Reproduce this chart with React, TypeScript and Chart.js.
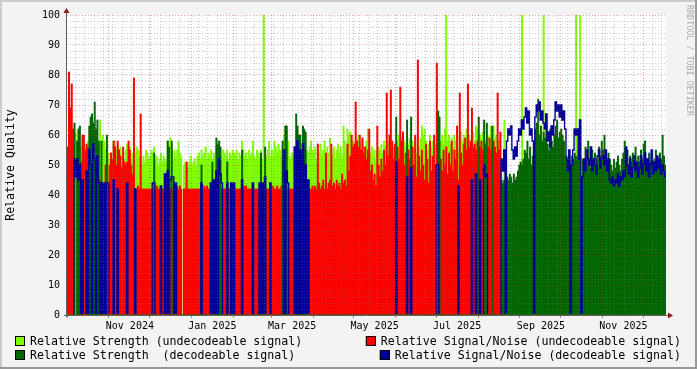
import React, { useEffect, useRef } from 'react';
import { Chart, registerables } from 'chart.js';

Chart.register(...registerables);

// ---- data (one value per day, starting 2024-10-01) ----
const START_DATE = '2024-10-01';

// Relative Strength (undecodeable signal)
const strengthUndecoded = [
  // Oct 2024
  50,52,52,50,55,0,61,0,0,0, 56,58,55,52,56,58,0,0,0,0, 0,0,0,0,65,56,60,58,55,56, 54,
  // Nov 2024
  52,54,50,58,58,55,56,52,56,50, 54,52,55,57,53,56,52,54,50,54, 56,55,53,52,50,53,51,55,54,52,
  // Dec 2024
  53,55,54,56,52,53,50,52,54,51, 53,52,51,58,56,59,54,52,55,53, 55,58,54,53,0,50,51,50,49,51, 53,
  // Jan 2025
  50,51,52,50,53,54,52,55,53,54, 56,52,54,53,55,52,54,53,56,54, 55,53,52,55,54,53,55,52,54,53, 55,
  // Feb 2025
  54,53,55,52,54,53,58,55,53,54, 52,55,53,54,58,53,52,55,54,53, 55,52,100,54,53,55,58,53,
  // Mar 2025
  55,53,58,56,54,57,55,53,56,60, 63,62,58,53,52,54,53,55,54,53, 55,54,52,55,54,53,55,54,56,58, 55,
  // Apr 2025
  54,56,52,55,54,57,53,55,58,53, 56,54,59,55,53,56,52,55,57,54, 56,53,63,58,55,62,60,61,55,58,
  // May 2025
  56,58,55,60,57,54,58,56,55,58, 62,55,54,56,53,55,52,54,56,55, 57,54,58,56,55,57,58,55,53,56, 55,
  // Jun 2025
  0,58,60,57,59,55,58,56,0,57, 59,0,58,55,57,54,58,56,59,63, 60,62,58,55,57,60,56,58,55,57,
  // Jul 2025
  55,0,0,58,60,57,62,100,58,60, 57,59,56,60,58,57,55,59,61,58, 60,56,62,58,60,57,59,61,58,63, 62,
  // Aug 2025
  58,60,59,61,0,58,0,60,58,63, 62,63,59,60,57,58,56,0,0,65, 0,0,0,0,0,0,0,0,0,0, 0,
  // Sep 2025
  0,100,0,0,0,0,0,0,0,0, 0,0,0,0,0,0,0,100,0,0, 0,0,0,0,0,0,0,0,0,0,
  // Oct 2025
  0,0,0,0,0,0,0,0,0,0, 0,100,0,0,100,0,0,0,0,0, 0,0,0,0,0,0,0,0,0,0, 0,
  // Nov 2025
  0,0,0,0,0,0,0,0,0,0, 0,0,0,0,0,0,0,0,0,0, 0,0,0,0,0,0,0,0,0,0,
  // Dec 2025
  0,0,0,0,0,0,0,0,0,0, 0,0,0,0,0,0,0,
];

// Relative Signal/Noise (undecodeable signal)
const snUndecoded = [
  // Oct 2024
  56,81,69,77,62,0,0,0,0,0, 51,60,60,55,57,56,0,0,0,0, 0,0,0,0,45,42,44,42,50,44, 43,
  // Nov 2024
  50,54,52,58,56,50,58,55,53,49, 56,51,50,51,58,55,50,47,79,42, 42,43,42,67,42,42,42,42,42,42,
  // Dec 2024
  42,42,42,42,42,43,42,42,42,42, 42,42,42,42,42,42,42,42,42,42, 43,42,43,42,0,42,42,51,42,42, 42,
  // Jan 2025
  42,42,42,42,42,42,42,42,42,43, 42,43,42,42,42,42,42,42,42,42, 42,42,42,42,42,42,42,42,42,42, 42,
  // Feb 2025
  42,42,42,42,42,42,42,42,43,43, 42,42,42,42,42,42,42,42,42,42, 42,42,42,42,42,42,42,42,
  // Mar 2025
  42,43,42,42,43,42,42,43,42,42, 42,42,42,42,42,42,42,42,42,42, 42,42,42,42,42,42,42,42,42,42, 43,
  // Apr 2025
  42,43,42,57,44,42,43,45,42,54, 42,44,45,57,43,44,42,45,43,44, 42,47,44,45,43,57,48,53,60,56,
  // May 2025
  57,71,58,56,60,55,59,54,56,52, 55,62,48,50,45,47,43,63,50,46, 52,48,55,50,74,53,60,75,58,52, 57,
  // Jun 2025
  0,56,52,76,58,61,50,54,0,55, 52,0,56,50,60,46,85,53,48,55, 50,45,57,52,44,58,48,53,60,50,
  // Jul 2025
  84,0,0,52,48,55,50,56,47,54, 50,58,48,55,52,63,45,74,54,50, 57,59,55,77,56,58,69,56,57,55, 58,
  // Aug 2025
  56,56,58,55,0,57,0,56,59,55, 57,58,56,54,74,55,61,0,0,0, 0,0,0,0,0,0,0,0,0,0, 0,
  // Sep 2025
  0,0,0,0,0,0,0,0,0,0, 0,0,0,0,0,0,0,0,0,0, 0,0,0,0,0,0,0,0,0,0,
  // Oct 2025
  0,0,0,0,0,0,0,0,0,0, 0,0,0,0,0,0,0,0,0,0, 0,0,0,0,0,0,0,0,0,0, 0,
  // Nov 2025
  0,0,0,0,0,0,0,0,0,0, 0,0,0,0,0,0,0,0,0,0, 0,0,0,0,0,0,0,0,0,0,
  // Dec 2025
  0,0,0,0,0,0,0,0,0,0, 0,0,0,0,0,0,0,
];

// Relative Strength (decodeable signal)
const strengthDecoded = [
  // Oct 2024
  0,0,0,0,0,64,0,58,62,63, 0,0,0,0,0,0,63,66,67,64, 71,62,65,58,0,58,0,0,0,60, 0,
  // Nov 2024
  0,0,0,0,0,0,0,0,0,0, 0,0,0,0,0,0,0,0,0,0, 0,0,0,0,0,0,0,0,0,0,
  // Dec 2024
  0,0,0,54,0,0,0,0,0,0, 0,0,0,58,56,0,58,0,0,0, 0,0,0,0,0,0,0,0,0,0, 0,
  // Jan 2025
  0,0,0,0,0,0,0,50,0,0, 0,0,0,0,0,51,0,0,59,57, 58,56,0,0,0,0,51,0,0,0, 0,
  // Feb 2025
  0,0,0,0,0,0,55,0,0,0, 0,0,0,0,0,0,0,0,0,0, 54,0,0,56,0,0,0,0,
  // Mar 2025
  0,0,0,0,0,0,0,0,58,0, 63,63,0,0,0,0,0,0,67,63, 60,60,0,63,62,61,0,0,0,0, 0,
  // Apr 2025
  0,0,0,0,0,0,0,0,0,0, 0,0,0,0,0,0,0,0,0,0, 0,0,0,0,0,0,0,0,0,0,
  // May 2025
  0,0,0,0,0,0,0,0,0,0, 0,0,0,0,0,0,0,0,0,0, 0,0,0,0,0,0,0,0,0,0, 0,
  // Jun 2025
  66,0,0,0,0,0,0,0,65,0, 0,66,0,0,0,0,0,0,0,0, 0,0,0,0,0,0,0,0,0,0,
  // Jul 2025
  0,68,66,0,0,0,0,0,0,0, 0,0,0,0,0,0,0,0,0,0, 0,0,0,0,0,0,0,0,0,0, 0,
  // Aug 2025
  66,0,0,0,65,0,64,0,0,0, 63,0,0,0,0,0,0,45,44,45, 0,46,45,47,46,44,47,45,46,48, 50,
  // Sep 2025
  51,50,52,55,54,58,52,56,50,53, 0,62,64,72,60,63,58,61,59,64, 57,55,62,58,56,60,63,65,59,61,
  // Oct 2025
  62,60,58,52,53,51,52,0,53,52, 54,53,52,55,53,0,52,50,56,53, 58,52,49,55,51,54,52,50,56,53, 58,
  // Nov 2025
  55,60,53,50,54,52,50,48,52,49, 51,53,50,48,52,54,58,52,55,50, 53,51,54,52,56,50,53,51,55,52,
  // Dec 2025
  57,58,52,50,54,51,53,50,52,55, 53,51,54,52,60,53,50,
];

// Relative Signal/Noise (decodeable signal)
const snDecoded = [
  // Oct 2024
  0,0,0,0,0,52,46,52,45,50, 0,45,0,0,48,0,55,50,0,57, 52,0,53,44,0,44,0,44,0,44, 44,
  // Nov 2024
  0,0,0,45,0,0,42,0,0,0, 0,0,0,44,0,0,0,0,0,42, 0,0,0,0,0,0,0,0,0,0,
  // Dec 2024
  0,0,44,44,0,0,0,0,43,0, 0,47,0,48,0,45,46,46,0,44, 0,0,0,0,0,0,0,0,0,0, 0,
  // Jan 2025
  0,0,0,0,0,0,0,44,0,0, 0,0,0,0,44,0,45,0,48,0, 52,47,44,0,0,0,44,0,0,44, 0,
  // Feb 2025
  44,0,0,0,0,0,45,0,0,0, 0,0,0,0,44,0,0,0,0,44, 0,44,0,46,0,0,0,44,
  // Mar 2025
  0,0,0,0,0,0,0,0,0,55, 0,48,44,0,0,0,0,56,0,58, 0,55,0,57,0,50,0,45,0,0, 0,
  // Apr 2025
  0,0,0,0,0,0,0,0,0,0, 0,0,0,0,0,0,0,0,0,0, 0,0,0,0,0,0,0,0,0,0,
  // May 2025
  0,0,0,0,0,0,0,0,0,0, 0,0,0,0,0,0,0,0,0,0, 0,0,0,0,0,0,0,0,0,0, 0,
  // Jun 2025
  51,0,0,0,0,0,0,0,46,0, 0,49,0,0,0,0,0,0,0,0, 0,0,0,0,0,0,0,0,0,0,
  // Jul 2025
  50,50,0,0,0,0,0,0,0,0, 0,0,0,0,0,0,43,0,0,0, 0,0,0,0,0,0,45,0,0,47, 0,
  // Aug 2025
  0,45,0,0,50,46,47,0,0,0, 0,0,0,0,0,0,0,52,48,55, 0,58,62,60,63,55,52,56,53,58, 62,
  // Sep 2025
  60,65,62,66,69,64,68,60,62,58, 0,66,70,68,71,65,68,64,62,67, 58,61,56,63,60,65,71,68,70,66,
  // Oct 2025
  70,65,68,62,52,48,55,0,50,55, 62,60,62,52,65,0,46,52,48,55, 52,50,56,48,52,50,47,53,55,49, 52,
  // Nov 2025
  53,50,55,48,52,45,44,46,43,45, 44,47,43,46,45,48,46,56,50,47, 52,46,49,53,48,51,46,49,53,47,
  // Dec 2025
  50,54,48,52,46,50,55,47,51,48, 53,49,52,47,50,48,46,
];

// x axis labels (centered mid-month) and their dates
const xLabelDates = ['2024-11-16', '2025-01-16', '2025-03-16', '2025-05-16', '2025-07-16', '2025-09-16', '2025-11-16'];
const xLabelTexts = ['Nov 2024', 'Jan 2025', 'Mar 2025', 'May 2025', 'Jul 2025', 'Sep 2025', 'Nov 2025'];

const legendTexts = [
  'Relative Strength (undecodeable signal)',
  'Relative Signal/Noise (undecodeable signal)',
  'Relative Strength  (decodeable signal)',
  'Relative Signal/Noise (decodeable signal)',
];

// ---- styles ----
const MONO = '"DejaVu Sans Mono", monospace';
const C_LG = '#80FF00';
const C_RED = '#FF0000';
const C_DG = '#006600';
const C_BLUE = '#000099';
const GRID_MAJOR = 'rgba(200,40,40,0.38)';
const GRID_MINOR = 'rgba(120,120,120,0.36)';
const NONE = 'rgba(0,0,0,0)';

const categories: string[] = (() => {
  const start = Date.parse(START_DATE + 'T00:00:00Z');
  const out: string[] = [];
  for (let i = 0; i < strengthUndecoded.length; i++) {
    out.push(new Date(start + i * 86400000).toISOString().slice(0, 10));
  }
  return out;
})();

function dayOf(i: number) {
  return new Date(categories[i] + 'T00:00:00Z');
}

const rrdPlugin = {
  id: 'rrdDecor',
  beforeDraw(chart: any) {
    const { ctx, chartArea: a, width, height } = chart;
    ctx.save();
    ctx.fillStyle = '#F3F3F3';
    ctx.fillRect(0, 0, width, height);
    ctx.fillStyle = '#CBCBCB';
    ctx.fillRect(0, 0, width, 2);
    ctx.fillRect(0, 0, 2, height);
    ctx.fillStyle = '#999999';
    ctx.fillRect(0, height - 2, width, 2);
    ctx.fillRect(width - 2, 0, 2, height);
    ctx.fillStyle = '#FFFFFF';
    ctx.fillRect(a.left, a.top, a.right - a.left, a.bottom - a.top);
    ctx.restore();
  },
  afterDraw(chart: any) {
    const { ctx, chartArea: a } = chart;
    ctx.save();
    // axes
    ctx.strokeStyle = '#606060';
    ctx.lineWidth = 1;
    ctx.beginPath();
    ctx.moveTo(a.left - 0.5, a.bottom + 2);
    ctx.lineTo(a.left - 0.5, a.top - 3);
    ctx.moveTo(a.left - 3, a.bottom + 0.5);
    ctx.lineTo(a.right + 3, a.bottom + 0.5);
    ctx.stroke();
    // arrows
    ctx.fillStyle = '#8B1A1A';
    ctx.beginPath();
    ctx.moveTo(a.left - 0.5, a.top - 7);
    ctx.lineTo(a.left - 3.5, a.top - 2);
    ctx.lineTo(a.left + 2.5, a.top - 2);
    ctx.closePath();
    ctx.fill();
    ctx.beginPath();
    ctx.moveTo(a.right + 7, a.bottom + 0.5);
    ctx.lineTo(a.right + 2, a.bottom - 2.5);
    ctx.lineTo(a.right + 2, a.bottom + 3.5);
    ctx.closePath();
    ctx.fill();

    // legend
    const colors = [C_LG, C_RED, C_DG, C_BLUE];
    const rowsY = [341, 355];
    ctx.font = `11.6px ${MONO}`;
    ctx.textBaseline = 'middle';
    for (let k = 0; k < 4; k++) {
      const row = k < 2 ? 0 : 1;
      const right = k % 2 === 1;
      const y = rowsY[row];
      const text = legendTexts[k];
      const w = ctx.measureText(text).width;
      const tx = right ? 681 - w : 30;
      const bx = tx - 15;
      ctx.fillStyle = colors[k];
      ctx.fillRect(bx, y - 5, 10, 10);
      ctx.strokeStyle = '#000';
      ctx.lineWidth = 1;
      ctx.strokeRect(bx + 0.5, y - 4.5, 9, 9);
      ctx.fillStyle = '#000';
      ctx.textAlign = 'left';
      ctx.fillText(text, tx, y + 0.5);
    }

    // watermark
    ctx.translate(689, 5);
    ctx.rotate(Math.PI / 2);
    ctx.font = `8.4px ${MONO}`;
    ctx.fillStyle = '#ABABAB';
    ctx.textAlign = 'left';
    ctx.textBaseline = 'middle';
    ctx.fillText('RRDTOOL / TOBI OETIKER', 0, 0);
    ctx.restore();
  },
};

const barCommon = {
  grouped: false,
  barPercentage: 1,
  categoryPercentage: 1,
  borderWidth: 0,
};

export default function App() {
  const ref = useRef<HTMLCanvasElement>(null);

  useEffect(() => {
    const canvas = ref.current;
    if (!canvas) return;
    const chart = new Chart(canvas, {
      type: 'bar',
      data: {
        labels: categories,
        datasets: [
          {
            type: 'line',
            label: legendTexts[3],
            data: snDecoded,
            borderColor: C_BLUE,
            borderWidth: 1.4,
            stepped: 'middle',
            pointRadius: 0,
            fill: false,
            order: 1,
            clip: { left: 0, top: 5, right: 0, bottom: -1 },
          } as any,
          { label: legendTexts[2], data: strengthDecoded, backgroundColor: C_DG, order: 2, ...barCommon } as any,
          { label: legendTexts[1], data: snUndecoded, backgroundColor: C_RED, order: 3, ...barCommon } as any,
          { label: legendTexts[0], data: strengthUndecoded, backgroundColor: C_LG, order: 4, ...barCommon } as any,
        ],
      },
      options: {
        responsive: false,
        animation: false,
        devicePixelRatio: 1,
        events: [],
        layout: { padding: { top: 15, right: 31, bottom: 0, left: 0 } },
        plugins: { legend: { display: false }, tooltip: { enabled: false } },
        scales: {
          x: {
            type: 'category',
            offset: true,
            grid: {
              offset: true,
              z: 1,
              lineWidth: 1,
              drawTicks: true,
              tickLength: 3,
              tickWidth: 1,
              color: (c: any) => {
                const i = c.index;
                if (c.type !== 'tick' || i == null || i <= 0 || i >= categories.length) return NONE;
                const d = dayOf(i);
                if (d.getUTCDate() === 1) return GRID_MAJOR;
                if (d.getUTCDay() === 1) return GRID_MINOR;
                return NONE;
              },
              tickColor: (c: any) => {
                const i = c.index;
                if (c.type !== 'tick' || i == null || i >= categories.length) return NONE;
                return dayOf(i).getUTCDate() === 1 ? '#909090' : NONE;
              },
            },
            border: { display: false, dash: [1, 2] },
            ticks: {
              autoSkip: false,
              maxRotation: 0,
              minRotation: 0,
              padding: 2,
              color: '#000',
              font: { family: MONO, size: 10 },
              callback: (_v: any, index: number) => {
                const k = xLabelDates.indexOf(categories[index]);
                return k >= 0 ? xLabelTexts[k] : '';
              },
            },
            afterFit: (s: any) => {
              s.height = 54;
            },
          },
          y: {
            type: 'linear',
            min: 0,
            max: 100,
            grid: {
              z: 1,
              drawTicks: false,
              lineWidth: 1,
              color: (c: any) => {
                if (!c.tick || c.tick.value === 0) return NONE;
                return c.tick.value % 10 === 0 ? GRID_MAJOR : GRID_MINOR;
              },
            },
            border: { display: false, dash: [1, 2] },
            ticks: {
              stepSize: 2,
              autoSkip: false,
              padding: 7,
              color: '#000',
              font: { family: MONO, size: 10 },
              callback: (v: any) => (Number(v) % 10 === 0 ? String(v) : ''),
            },
            title: {
              display: true,
              text: 'Relative Quality',
              color: '#000',
              font: { family: MONO, size: 11.6 },
              padding: { top: 4, bottom: 0 },
            },
            afterFit: (s: any) => {
              s.width = 67;
            },
          },
        },
      },
      plugins: [rrdPlugin],
    } as any);
    return () => chart.destroy();
  }, []);

  return (
    <div style={{ position: 'absolute', left: 0, top: 0, width: 697, height: 369 }}>
      <canvas ref={ref} width={697} height={369} style={{ display: 'block', width: 697, height: 369 }} />
    </div>
  );
}
